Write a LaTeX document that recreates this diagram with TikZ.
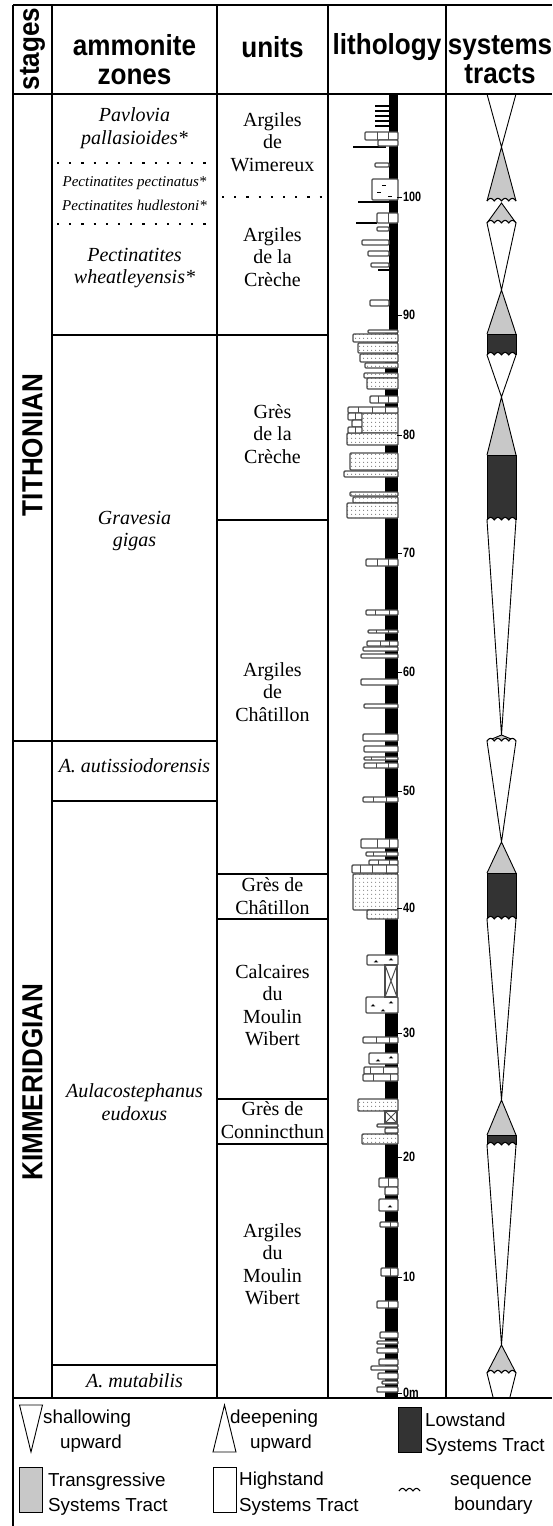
\documentclass[tikz,border=0pt]{standalone}
\usepackage{fontspec}
\setmainfont{Liberation Serif}
\newfontfamily\hdfont[FakeStretch=0.9]{Liberation Sans}
\newfontfamily\lgfont{Liberation Sans}
\newfontfamily\numfont[FakeStretch=0.8]{Liberation Sans}
\usetikzlibrary{patterns.meta}
\definecolor{tstgray}{HTML}{C8C8C8}
\definecolor{lstdark}{HTML}{333333}
\newcommand\seqwave[4]{%
  \fill[white] plot[domain=0:#3,samples=61] ({#2+\x},{#1-2.6*abs(sin(\x/#3*180*#4))}) -- cycle;
  \draw[wline] plot[domain=0:#3,samples=61] ({#2+\x},{#1-2.6*abs(sin(\x/#3*180*#4))});}
\newcommand\fos[2]{\draw[line width=0.6pt] ({#1-2.2},#2) -- ({#1+2.2},#2) ({#1-1},#2) -- (#1,{#2-1.6}) -- ({#1+1},#2);}
\newcommand\tstri[2]{\fill[tstgray] (501.5,#1) -- (516,#2) -- (487,#2) -- cycle;
  \draw[tline] (487,#2) -- (501.5,#1) -- (516,#2);}
\newcommand\lstbox[2]{\fill[lstdark] (487,#1) rectangle (516,#2);
  \draw[tline] (487,#2) -- (487,#1) -- (516,#1) -- (516,#2);}
\newcommand\hstv[2]{\draw[tline] (487,#1) -- (501.5,#2) -- (516,#1);}
\tikzset{
  frameline/.style={line width=2.8pt},
  tline/.style={line width=0.9pt, line join=miter},
  wline/.style={line width=1.1pt, line join=round},
  lime/.style={draw=black!70, line width=1.4pt, fill=white, rounded corners=1pt},
  sand/.style={lime, postaction={pattern={Dots[distance=4pt,radius=0.6pt]}, pattern color=black!70}},
  divline/.style={draw=black!70, line width=1pt},
  blk/.style={line width=1.3pt, black},
  dotline/.style={line width=2.2pt, dash pattern=on 2.2pt off 10pt},
  zone/.style={font=\fontsize{20}{22.5}\selectfont\itshape, align=center, inner sep=0},
  smallzone/.style={font=\fontsize{15}{17}\selectfont\itshape, align=center, inner sep=0},
  unit/.style={font=\fontsize{20}{22.5}\selectfont, align=center, inner sep=0},
  hd/.style={font=\fontsize{29}{29}\selectfont\hdfont\bfseries, align=center, inner sep=0},
  lg/.style={font=\fontsize{18.8}{20}\selectfont\lgfont, anchor=base west, inner sep=0},
  num/.style={font=\fontsize{13.5}{14}\selectfont\numfont\bfseries, anchor=west, inner sep=0},
}
\begin{document}
\begin{tikzpicture}[x=1pt,y=-1pt]
\useasboundingbox (0,0) rectangle (552,1526);
\fill[white] (0,0) rectangle (552,1526);

% ---------- frame and table lines ----------
\draw[frameline] (13,5) -- (552,5);
\draw[frameline] (13,5) -- (13,1526);
\draw[frameline] (13,94) -- (552,94);
\draw[frameline] (13,1398) -- (552,1398);
\foreach \cx in {52,217,328,446} \draw[frameline] (\cx,5) -- (\cx,1398);
\draw[frameline] (13,741) -- (217,741);
\draw[frameline] (52,335) -- (328,335);
\draw[frameline] (52,801) -- (217,801);
\draw[frameline] (52,1365) -- (217,1365);
\foreach \uy in {520,874,919,1099,1144} \draw[frameline] (217,\uy) -- (328,\uy);
\draw[dotline] (57,163) -- (213,163);
\draw[dotline] (57,224) -- (213,224);
\draw[dotline] (222,197) -- (326,197);

% ---------- header ----------
\node[hd, rotate=90] (hstages) at (32.5,49) {stages};
\node[hd] (hzones) at (134.5,60) {ammonite\\zones};
\node[hd] (hunits) at (272.5,47) {units};
\node[hd] (hlith) at (387,47) {lithology};
\node[hd] (htracts) at (500,60) {systems\\tracts};

% ---------- stages ----------
\node[hd, rotate=90] (tith) at (32.5,445) {TITHONIAN};
\node[hd, rotate=90] (kimm) at (32.5,1082) {KIMMERIDGIAN};

% ---------- ammonite zones ----------
\node[zone] (zpav) at (134.5,128) {Pavlovia\\pallasioides*};
\node[smallzone] (zpec) at (134.5,183) {Pectinatites pectinatus*};
\node[smallzone] (zhud) at (134.5,205) {Pectinatites hudlestoni*};
\node[zone] (zwhe) at (134.5,268) {Pectinatites\\wheatleyensis*};
\node[zone] (zgra) at (134.5,531) {Gravesia\\gigas};
\node[zone] (zaut) at (134.5,766) {A. autissiodorensis};
\node[zone] (zeud) at (134.5,1102) {Aulacostephanus\\eudoxus};
\node[zone] (zmut) at (134.5,1381) {A. mutabilis};

% ---------- units ----------
\node[unit] (uwim) at (272.5,142) {Argiles\\de\\Wimereux};
\node[unit] (ucre) at (272.5,257) {Argiles\\de la\\Crèche};
\node[unit] (ugcr) at (272.5,434) {Grès\\de la\\Crèche};
\node[unit] (uach) at (272.5,692) {Argiles\\de\\Châtillon};
\node[unit] (ugch) at (272.5,896) {Grès de\\Châtillon};
\node[unit] (ucal) at (272.5,1005) {Calcaires\\du\\Moulin\\Wibert};
\node[unit] (ucon) at (272.5,1120) {Grès de\\Connincthun};
\node[unit] (uamw) at (272.5,1264) {Argiles\\du\\Moulin\\Wibert};

% ---------- lithology ----------
\fill[black] (389,94) rectangle (398,330);
\fill[black] (385,330) rectangle (398,1397);
\foreach \ly in {106,111,116,121,126} \draw[blk] (375,\ly) -- (389,\ly);
\draw[blk] (353,147) -- (386,147);
\draw[blk] (358,202) -- (389,202);
\draw[blk] (356,223) -- (377,223);
\draw[blk] (378,270) -- (389,270);
\foreach \t/\b/\l in {334/342/353,343/353/358,354/362/360,363/368/365,373/378/364,378/389/367,
  413/433/358,433/445/347,453/470/350,471/477/344,492/496/350,497/503/353,503/518/347,
  874/910/353,910/919/367,1099/1111/358,1134/1144/362}
  \draw[sand] (\l,\t) rectangle (398,\b);
\foreach \t/\b/\l/\r in {163/167/375/389,227/231/377/389,240/245/362/389,251/256/368/389,
  263/267/371/389,300/306/370/389,132/140/365/398,140/146/378/398,213/223/377/398,
  330/333/368/398,396/403/370/398,407/413/348/398,413/420/348/362,420/427/352/362,427/433/348/362,
  559/566/366/398,610/615/366/398,630/633/368/398,641/646/367/398,647/651/363/398,654/658/361/398,
  679/685/361/398,704/708/364/398,734/741/363/398,746/752/364/398,757/760/364/398,763/768/364/398,
  797/802/363/398,839/848/361/398,852/856/366/398,860/865/369/398,865/873/352/398,
  1037/1043/363/398,1067/1074/364/398,1074/1081/363/398,1124/1127/377/398,1128/1133/385/398,
  1178/1187/379/398,1187/1195/385/398,1222/1227/380/398,1268/1276/381/398,1301/1308/377/398,
  1332/1338/380/398,1341/1344/377/398,1348/1353/377/398,1359/1365/379/398,1366/1370/371/398,
  1373/1379/378/398,1381/1384/382/398,1387/1392/377/398}
  \draw[lime] (\l,\t) rectangle (\r,\b);
\foreach \t/\b/\dx in {132/140/377,132/140/388,213/223/388,396/403/378,396/403/388,407/413/358,
  407/413/372,407/413/385,413/420/355,427/433/355,559/566/377,559/566/388,610/615/375,610/615/389,
  630/633/376,630/633/388,641/646/380,641/646/389,757/760/371,757/760/385,763/768/376,763/768/388,
  797/802/373,797/802/386,839/848/377,839/848/389,852/856/373,852/856/386,860/865/378,860/865/389,
  865/873/360,865/873/372,865/873/386,1037/1043/376,1037/1043/389,1067/1074/370,1067/1074/383,
  1074/1081/373,1074/1081/390,1178/1187/388,1222/1227/390,1268/1276/390,1301/1308/388}
  \draw[divline] (\dx,\t) -- (\dx,\b);
% marly beds with fossils
\draw[lime] (372,179) rectangle (398,200);
\foreach \fx/\fy in {384/185,379/192,390/196} \draw[line width=0.6pt] ({\fx-1.8},\fy) -- ({\fx+1.8},\fy);
\draw[lime] (367,955) rectangle (398,965);
\draw[lime] (366,997) rectangle (398,1013);
\draw[lime] (369,1053) rectangle (398,1064);
\draw[lime] (379,1199) rectangle (398,1211);
\fos{376}{962}\fos{391}{960}\fos{373}{1006}\fos{391}{1003}\fos{383}{1011}
\fos{378}{1061}\fos{391}{1058}\fos{390}{1207}
% covered intervals
\foreach \t/\b in {965/997,1111/1123}{
  \draw[lime, rounded corners=0] (385,\t) rectangle (397,\b);
  \draw[divline] (385,\t) -- (397,\b) (397,\t) -- (385,\b);}
% scale
\foreach \m/\my in {100/197,90/315,80/435,70/553,60/672,50/791,40/908,30/1033,20/1157,10/1277}{
  \draw[line width=1pt] (397,\my) -- (402,\my);
  \node[num] (n\m) at (403,\my) {\m};}
\draw[line width=1pt] (397,1393) -- (402,1393);
\node[num] (n0) at (403,1393) {0m};

% ---------- systems tracts ----------
\hstv{94}{147}
\tstri{147}{201}
\tstri{203}{223}
\hstv{223}{290}
\tstri{290}{334}
\lstbox{334}{355}
\hstv{355}{397}
\tstri{397}{455}
\lstbox{455}{520}
\hstv{520}{735}
\tstri{735}{741}
\hstv{741}{842}
\tstri{842}{873}
\lstbox{873}{919}
\hstv{919}{1100}
\tstri{1100}{1135}
\lstbox{1135}{1145}
\hstv{1145}{1345}
\tstri{1345}{1373}
\draw[tline] (487,1373) -- (493,1397) (516,1373) -- (510,1397);
\foreach \wy in {201,223,355,520,741,919,1145,1373} {\seqwave{\wy}{487}{29}{4}}

% ---------- legend ----------
\draw[tline] (19.5,1405) -- (42.5,1405) -- (31,1452) -- cycle;
\node[lg] (lsh1) at (43,1423) {shallowing};
\node[lg] (lsh2) at (60,1448) {upward};
\draw[tline] (224.5,1405) -- (236,1452) -- (213,1452) -- cycle;
\node[lg] (lde1) at (230,1423) {deepening};
\node[lg] (lde2) at (250,1448) {upward};
\filldraw[tline, fill=lstdark] (398,1407) rectangle (421,1452);
\node[lg] (llo1) at (425,1426) {Lowstand};
\node[lg] (llo2) at (425,1451) {Systems Tract};
\filldraw[tline, fill=tstgray] (19.5,1467) rectangle (42.5,1512);
\node[lg] (ltr1) at (48,1486) {Transgressive};
\node[lg] (ltr2) at (48,1511) {Systems Tract};
\draw[tline] (213,1467) rectangle (236,1512);
\node[lg] (lhi1) at (239,1485) {Highstand};
\node[lg] (lhi2) at (239,1511) {Systems Tract};
\seqwave{1491}{399}{21}{3}
\node[lg] (lse1) at (450,1485) {sequence};
\node[lg] (lse2) at (454,1510) {boundary};
\end{tikzpicture}
\end{document}
